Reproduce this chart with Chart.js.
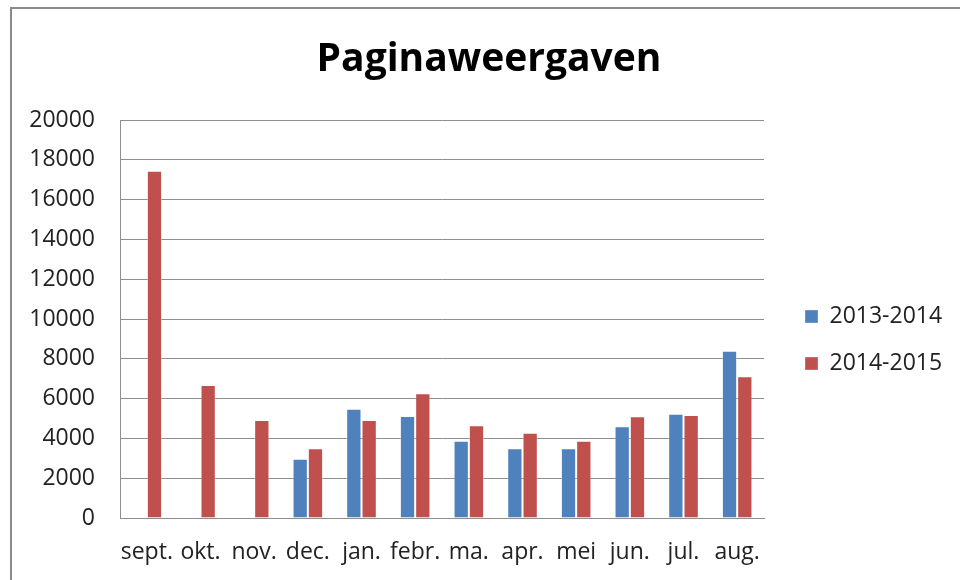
<!DOCTYPE html>
<html>
<head>
<meta charset="utf-8">
<script src="https://cdn.jsdelivr.net/npm/chart.js@4.4.1/dist/chart.umd.min.js"></script>
<style>
  html, body { margin: 0; padding: 0; background: #fff; overflow: hidden; }
  #wrap { position: relative; width: 960px; height: 580px; }
  #frame {
    position: absolute; left: 10px; top: 7px; width: 1000px; height: 700px;
    border: 2px solid #8a8a8a; pointer-events: none;
  }
</style>
</head>
<body>
<div id="wrap">
  <canvas id="chart" width="960" height="580"></canvas>
  <div id="frame"></div>
</div>
<script>
// ================= DATA =================
const months = ['sept.', 'okt.', 'nov.', 'dec.', 'jan.', 'febr.', 'ma.', 'apr.', 'mei', 'jun.', 'jul.', 'aug.'];
const views1314 = [null, null, null, 2980, 5490, 5120, 3880, 3500, 3500, 4610, 5240, 8410];
const views1415 = [17450, 6680, 4930, 3500, 4930, 6270, 4660, 4280, 3880, 5110, 5170, 7120];
const seriesNames = ['2013-2014', '2014-2015'];

const FONT = '"Open Sans", Lato, sans-serif';
const GRID = '#8e8e8e';

// Excel layout: legend right of the plot (not centred), title centred on the whole frame
const placeBoxes = {
    id: 'placeBoxes',
    afterLayout(chart) {
        const lg = chart.legend;
        const w = lg.width, h = lg.height;
        lg.left = 781;
        lg.top = 281;
        lg.right = lg.left + w;
        lg.bottom = lg.top + h;

        const tb = chart.titleBlock;
        tb.left = 0;
        tb.right = 978;
        tb.width = 978;
    }
};

const ctx = document.getElementById('chart').getContext('2d');

new Chart(ctx, {
    type: 'bar',
    data: {
        labels: months,
        datasets: [
            {
                label: seriesNames[0],
                data: views1314,
                backgroundColor: '#4F81BD',
                borderColor: 'rgba(255,255,255,0.35)',
                borderWidth: 1
            },
            {
                label: seriesNames[1],
                data: views1415,
                backgroundColor: '#C0504D',
                borderColor: 'rgba(255,255,255,0.35)',
                borderWidth: 1
            }
        ]
    },
    options: {
        responsive: false,
        animation: false,
        layout: { padding: { left: 0, right: 196, top: 0, bottom: 0 } },
        datasets: {
            bar: { categoryPercentage: 0.57, barPercentage: 1 }
        },
        plugins: {
            title: {
                display: true,
                text: 'Paginaweergaven',
                color: '#000',
                font: { family: FONT, size: 39, weight: 'bold', lineHeight: 1.2 },
                padding: { top: 36, bottom: 37.2 }
            },
            legend: {
                position: 'chartArea',
                align: 'start',
                labels: {
                    color: '#222',
                    font: { family: FONT, size: 23 },
                    boxWidth: 13,
                    boxHeight: 13,
                    padding: 24
                }
            },
            tooltip: { enabled: false }
        },
        scales: {
            x: {
                grid: { display: false, drawTicks: false },
                border: { display: true, color: GRID, width: 1 },
                ticks: {
                    color: '#222',
                    font: { family: FONT, size: 23 },
                    padding: 21,
                    maxRotation: 0,
                    autoSkip: false
                },
                afterFit: s => { s.height = 62; }
            },
            y: {
                min: 0,
                max: 20000,
                grid: { color: GRID, lineWidth: 1, drawTicks: false },
                border: { display: true, color: GRID, width: 1 },
                ticks: {
                    stepSize: 2000,
                    color: '#222',
                    font: { family: FONT, size: 23 },
                    padding: 25,
                    callback: v => String(v)
                },
                afterFit: s => { s.width = 120; }
            }
        }
    },
    plugins: [placeBoxes]
});
</script>
</body>
</html>
